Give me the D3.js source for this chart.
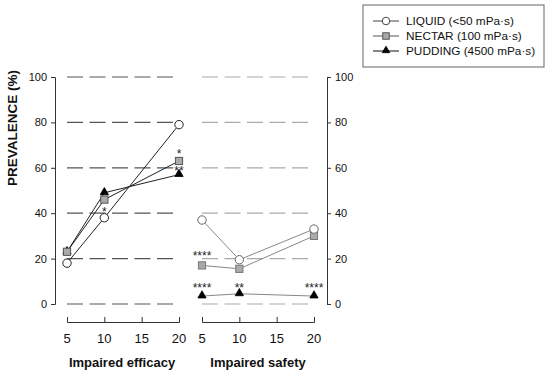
<!DOCTYPE html>
<html>
<head>
<meta charset="utf-8">
<script src="https://cdn.jsdelivr.net/npm/d3@7"></script>
<style>
  body { margin: 0; background: #fff; }
  svg { font-family: "Liberation Sans", Arial, sans-serif; }
</style>
</head>
<body>
<div class="chart"></div>
<script>
// ------------------------------------------------------------------
// Data
var doses = [5, 10, 20];
var seriesNames = ["LIQUID (<50 mPa\u00b7s)", "NECTAR (100 mPa\u00b7s)", "PUDDING (4500 mPa\u00b7s)"];
var efficacyLiquid  = [18, 38, 79];
var efficacyNectar  = [23, 46, 63];
var efficacyPudding = [23, 49, 57];
var safetyLiquid  = [37, 19.5, 33];
var safetyNectar  = [17, 15.5, 30];
var safetyPudding = [3.5, 4.5, 3.5];
var xTicks = [5, 10, 15, 20];
var yTicks = [0, 20, 40, 60, 80, 100];
// significance marks : [dose, level, text]
var efficacyStars = [[10, 42, "*"], [20, 67.5, "*"], [20, 60, "**"]];
var safetyStars = [[5, 22.5, "****"], [5, 8.5, "****"], [10, 8.5, "**"], [20, 8.5, "****"]];

// ------------------------------------------------------------------
var width = 550, height = 375;
var svg = d3.select(".chart").append("svg")
  .attr("width", width)
  .attr("height", height);

var y = d3.scaleLinear().domain([0, 100]).range([304, 77]);
var xLeft = d3.scaleLinear().domain([5, 20]).range([67, 179]);
var xRight = d3.scaleLinear().domain([5, 20]).range([202, 314]);

var shapes = ["circle", "square", "triangle"];
var fills = ["#fff", "#aaa", "#000"];

function drawMarker(g, shape, cx, cy, fill, stroke, s) {
  if (shape == "circle") {
    g.append("circle").attr("cx", cx).attr("cy", cy).attr("r", 4.2 * s)
      .attr("fill", fill).attr("stroke", stroke).attr("stroke-width", 1);
  } else if (shape == "square") {
    g.append("rect").attr("x", cx - 3.6 * s).attr("y", cy - 3.6 * s)
      .attr("width", 7.2 * s).attr("height", 7.2 * s)
      .attr("fill", fill).attr("stroke", stroke).attr("stroke-width", 1);
  } else {
    var sym = d3.symbol().type(d3.symbolTriangle).size(30 * s * s);
    g.append("path").attr("d", sym())
      .attr("transform", "translate(" + cx + "," + (cy - 0.5) + ")")
      .attr("fill", fill).attr("stroke", fill).attr("stroke-width", 0.8);
  }
}

function drawPanel(x, series, stars, gridColor, lineColor, markerStroke, axisSide) {
  var g = svg.append("g");

  // dashed grid lines
  g.selectAll(".grid").data(yTicks).enter().append("line")
    .attr("x1", x(5)).attr("x2", x(20) - 1)
    .attr("y1", function(d) { return y(d); })
    .attr("y2", function(d) { return y(d); })
    .attr("stroke", gridColor)
    .attr("stroke-width", 1.2)
    .attr("stroke-dasharray", "16,6.5");

  // bottom axis, ticks up
  var xa = g.append("g")
    .attr("transform", "translate(0,322)")
    .call(d3.axisTop(x).tickValues(xTicks).tickSize(5).tickFormat(""));
  xa.select(".domain").attr("stroke", "#333");
  xa.selectAll(".tick line").attr("stroke", "#333");
  g.selectAll(".xlab").data(xTicks).enter().append("text")
    .attr("x", function(d) { return x(d); })
    .attr("y", 343)
    .attr("text-anchor", "middle")
    .attr("font-size", 13)
    .attr("fill", "#111")
    .text(function(d) { return d; });

  // vertical axis
  var ax = axisSide == "left" ? d3.axisLeft(y) : d3.axisRight(y);
  var ya = g.append("g")
    .attr("transform", "translate(" + (axisSide == "left" ? 55 : 327) + ",0)")
    .call(ax.tickValues(yTicks).tickSize(4).tickSizeOuter(4).tickPadding(4));
  ya.select(".domain").attr("stroke", "#333");
  ya.selectAll(".tick line").attr("stroke", "#333");
  ya.selectAll(".tick text").attr("font-size", 11).attr("fill", "#111")
    .attr("font-family", "Liberation Sans, Arial, sans-serif");

  // series
  var line = d3.line()
    .x(function(d, i) { return x(doses[i]); })
    .y(function(d) { return y(d); });
  series.forEach(function(vals, k) {
    g.append("path").datum(vals)
      .attr("d", line)
      .attr("fill", "none")
      .attr("stroke", lineColor)
      .attr("stroke-width", 1);
  });
  for (var k = series.length - 1; k >= 0; k--) {
    series[k].forEach(function(v, i) {
      drawMarker(g, shapes[k], x(doses[i]), y(v), fills[k], markerStroke[k], 1);
    });
  }

  // significance marks
  g.selectAll(".star").data(stars).enter().append("text")
    .attr("x", function(d) { return x(d[0]); })
    .attr("y", function(d) { return y(d[1]) + 7; })
    .attr("text-anchor", "middle")
    .attr("font-size", 12)
    .attr("fill", "#222")
    .text(function(d) { return d[2]; });
}

drawPanel(xLeft, [efficacyLiquid, efficacyNectar, efficacyPudding], efficacyStars,
  "#555", "#222", ["#222", "#555", "#000"], "left");
drawPanel(xRight, [safetyLiquid, safetyNectar, safetyPudding], safetyStars,
  "#aaa", "#888", ["#666", "#777", "#000"], "right");

// ------------------------------------------------------------------
// Titles
svg.append("text")
  .attr("transform", "translate(17,128) rotate(-90)")
  .attr("text-anchor", "middle")
  .attr("font-size", 13.5)
  .attr("font-weight", "bold")
  .attr("fill", "#111")
  .text("PREVALENCE (%)");
svg.append("text")
  .attr("x", 122).attr("y", 367)
  .attr("text-anchor", "middle")
  .attr("font-size", 13)
  .attr("font-weight", "bold")
  .attr("fill", "#111")
  .text("Impaired efficacy");
svg.append("text")
  .attr("x", 258).attr("y", 367)
  .attr("text-anchor", "middle")
  .attr("font-size", 13)
  .attr("font-weight", "bold")
  .attr("fill", "#111")
  .text("Impaired safety");

// ------------------------------------------------------------------
// Legend
var legend = svg.append("g");
legend.append("rect")
  .attr("x", 363).attr("y", 5)
  .attr("width", 181).attr("height", 62)
  .attr("fill", "#fff")
  .attr("stroke", "#666")
  .attr("stroke-width", 1);
var legendStroke = ["#444", "#555", "#000"];
var legendLine = ["#444", "#555", "#111"];
seriesNames.forEach(function(name, k) {
  var ly = 21 + k * 15;
  legend.append("line")
    .attr("x1", 373).attr("x2", 399)
    .attr("y1", ly).attr("y2", ly)
    .attr("stroke", legendLine[k]).attr("stroke-width", 1);
  drawMarker(legend, shapes[k], 386, ly, fills[k], legendStroke[k], 0.9);
  legend.append("text")
    .attr("x", 406).attr("y", ly + 4.3)
    .attr("font-size", 11.8)
    .attr("fill", "#111")
    .text(name);
});
</script>
</body>
</html>
